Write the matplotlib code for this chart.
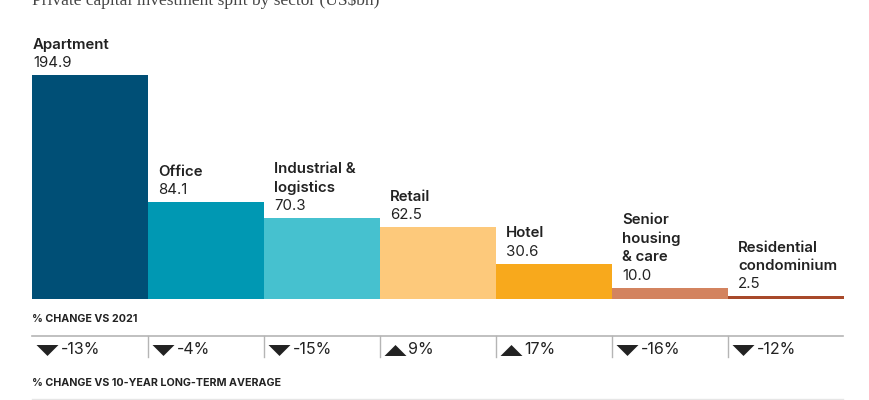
import matplotlib
matplotlib.use("Agg")
import matplotlib.pyplot as plt
from matplotlib.transforms import blended_transform_factory

# data
sectors = ["Apartment", "Office", "Industrial &\nlogistics", "Retail", "Hotel",
           "Senior\nhousing\n& care", "Residential\ncondominium"]
investment = [194.9, 84.1, 70.3, 62.5, 30.6, 10.0, 2.5]
change_vs_2021 = [-13, -4, -15, 9, 17, -16, -12]
colors = ["#004f76", "#0098b3", "#46c1cf", "#fdc97b", "#f8a91c", "#d3835f", "#a8492a"]

plt.rcParams['font.family'] = ['Inter', 'DejaVu Sans']

W, H = 870, 400
fig = plt.figure(figsize=(W / 100, H / 100), dpi=100)

# bar axes: baseline at y=299 px, 194.9 -> y=75 px
left, right, base = 32, 844, 299
scale = (base - 75) / investment[0]
ax = fig.add_axes([left / W, 1 - base / H, (right - left) / W, base / H])
ax.set_xlim(-0.5, len(sectors) - 0.5)
ax.set_ylim(0, base / scale)
ax.axis('off')

x = list(range(len(sectors)))
ax.bar(x, investment, width=1.0, color=colors, linewidth=0)

for i, (name, val) in enumerate(zip(sectors, investment)):
    pad = 1 if i == 0 else 10
    ax.annotate(f"{val:.1f}", (i - 0.5, val), xytext=(pad, 8), textcoords='offset pixels',
                ha='left', va='baseline', fontsize=10.8, color='#222222')
    ax.annotate(name, (i - 0.5, val), xytext=(pad, 26.5), textcoords='offset pixels',
                ha='left', va='baseline', fontsize=10.8, fontweight='semibold',
                color='#222222', linespacing=1.36)

# title (cut at the top)
fig.text(left / W, 1 - 5 / H, r"Private capital investment split by sector (US\$bn)",
         family='Liberation Serif', fontsize=12.5, color='#444444', va='baseline', ha='left')

# table below
tr = blended_transform_factory(ax.transData, fig.transFigure)
fy = lambda py: 1 - py / H

fig.text(left / W, fy(319), "% CHANGE VS 2021", fontsize=7.7, fontweight='bold',
         color='#222222', va='center', ha='left')
fig.text(left / W, fy(383), "% CHANGE VS 10-YEAR LONG-TERM AVERAGE", fontsize=7.7,
         fontweight='bold', color='#222222', va='center', ha='left')

fig.add_artist(plt.Line2D([left / W, (right - 1) / W], [fy(336), fy(336)],
                          color='#b5b5b5', linewidth=1.2))
fig.add_artist(plt.Line2D([left / W, (right - 1) / W], [fy(399), fy(399)],
                          color='#e6e6e6', linewidth=1.0))

for i in range(1, len(sectors)):
    ax.plot([i - 0.5, i - 0.5], [fy(336), fy(357)], transform=tr, color='#b5b5b5',
            linewidth=1.0, clip_on=False)

down = [(-1, 0.5), (1, 0.5), (0, -0.5)]
up = [(-1, -0.5), (1, -0.5), (0, 0.5)]
cell = 1.0 / ((right - left) / len(sectors))
for i, c in enumerate(change_vs_2021):
    mk = up if c > 0 else down
    ax.scatter([i - 0.5 + 15 * cell], [fy(350)], transform=tr, marker=mk, s=250,
               color='#222222', linewidths=0, clip_on=False)
    ax.text(i - 0.5 + 28.5 * cell, fy(350), f"{c}%", transform=tr, fontsize=11.5,
            color='#222222', va='center', ha='left')

fig.savefig("out.png", dpi=100, facecolor='white')
